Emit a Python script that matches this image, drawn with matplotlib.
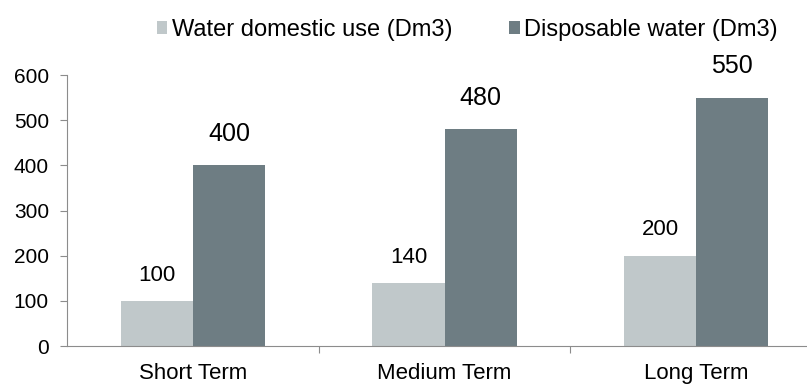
import matplotlib.pyplot as plt

plt.rcParams["font.family"] = ["Liberation Sans", "DejaVu Sans"]

terms = ["Short Term", "Medium Term", "Long Term"]
domestic_use = [100, 140, 200]
disposable = [400, 480, 550]

light = "#c0c8ca"
dark = "#6e7d83"
axis_grey = "#8c8c8c"

fig = plt.figure(figsize=(8.07, 3.85), dpi=100)
ax = fig.add_axes([0.083, 0.101, 0.917, 0.704])

x = range(len(terms))
w = 0.287
ax.bar([i - w / 2 for i in x], domestic_use, width=w, color=light,
       label="Water domestic use (Dm3)")
ax.bar([i + w / 2 for i in x], disposable, width=w, color=dark,
       label="Disposable water (Dm3)")

for i in x:
    ax.annotate(str(domestic_use[i]), (i - w / 2, domestic_use[i]),
                xytext=(0, 11), textcoords="offset points",
                ha="center", va="bottom", fontsize=16)
    ax.annotate(str(disposable[i]), (i + w / 2, disposable[i]),
                xytext=(0, 14), textcoords="offset points",
                ha="center", va="bottom", fontsize=18)

ax.set_xlim(-0.5, 2.44)
ax.set_ylim(0, 600)
ax.set_yticks(range(0, 601, 100))
ax.set_xticks([0.5, 1.5])
ax.set_xticklabels([])
ax.set_xticks(list(x), minor=True)
ax.set_xticklabels(terms, minor=True, fontsize=16)
ax.tick_params(axis="x", which="minor", length=0, pad=12)
ax.tick_params(axis="x", which="major", length=5, color=axis_grey)
ax.tick_params(axis="y", length=5, color=axis_grey, labelsize=15, pad=8)

for s in ["top", "right"]:
    ax.spines[s].set_visible(False)
for s in ["left", "bottom"]:
    ax.spines[s].set_color(axis_grey)

fig.legend(loc="center", bbox_to_anchor=(0.579, 0.922), ncol=2, frameon=False,
           fontsize=17, handlelength=0.45, handleheight=0.45, handletextpad=0.2,
           columnspacing=2.4)

fig.savefig("out.png", dpi=100)
